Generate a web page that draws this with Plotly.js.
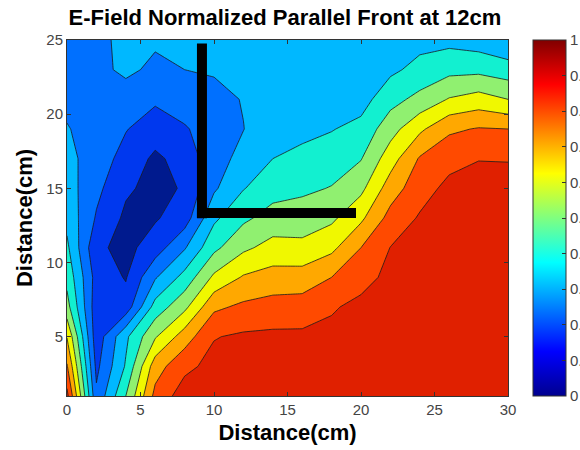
<!DOCTYPE html>
<html>
<head>
<meta charset="utf-8">
<script src="https://cdn.plot.ly/plotly-3.0.1.min.js"></script>
<style>html,body{margin:0;padding:0;background:#fff;overflow:hidden}#chart{width:580px;height:450px}</style>
</head>
<body>
<div id="chart"></div>
<script>
const xValues = [0,2,4,6,8,10,12,14,16,18,20,22,24,26,28,30];
const yValues = [1,3,5,7,9,11,13,15,17,19,21,23,25];
const row01 = [.93,.22,.50,.83,.95,.94,.945,.945,.945,.945,.95,.95,.95,.95,.95,.95];
const row03 = [.81,.175,.41,.755,.875,.93,.935,.935,.935,.94,.945,.95,.95,.95,.95,.95];
const row05 = [.695,.14,.38,.59,.75,.895,.915,.92,.92,.925,.94,.945,.95,.95,.95,.95];
const row07 = [.537,.14,.14,.44,.575,.78,.82,.84,.845,.89,.925,.935,.945,.95,.95,.95];
const row09 = [.47,.16,.093,.29,.435,.62,.71,.74,.745,.80,.865,.925,.935,.945,.95,.95];
const row11 = [.42,.12,.07,.15,.29,.475,.58,.635,.625,.675,.80,.902,.92,.94,.945,.945];
const row13 = [.37,.19,.08,.09,.15,.38,.48,.54,.55,.58,.68,.835,.91,.935,.94,.94];
const row15 = [.345,.225,.115,.07,.11,.285,.395,.46,.48,.505,.575,.75,.86,.925,.935,.93];
const row17 = [.33,.25,.165,.08,.14,.26,.33,.40,.43,.45,.495,.655,.81,.87,.897,.896];
const row19 = [.305,.265,.205,.15,.19,.25,.298,.36,.37,.395,.43,.56,.68,.7825,.807,.80];
const row21 = [.28,.27,.265,.215,.25,.27,.305,.335,.34,.355,.36,.465,.53,.607,.642,.60];
const row23 = [.27,.28,.315,.285,.30,.31,.32,.33,.33,.335,.33,.38,.43,.471,.474,.446];
const row25 = [.27,.29,.31,.31,.32,.32,.33,.33,.33,.33,.33,.345,.37,.372,.351,.31];
const zValues = [row01,row03,row05,row07,row09,row11,row13,row15,row17,row19,row21,row23,row25];

const barVerticalX = [9.18,9.18];
const barVerticalY = [24.76,12.99];
const barHorizontalX = [8.84,19.66];
const barHorizontalY = [13.33,13.33];

const jet = [[0,'#00008f'],[.125,'#0000ff'],[.375,'#00ffff'],[.625,'#ffff00'],[.875,'#ff0000'],[1,'#800000']];
const bandColors = ['#001a8e','#0038ee','#0070ff','#00b8ff','#12f0d0','#90f070','#f0f800','#ffa800','#ff4a00','#e02000'];
const bands = bandColors.map((c,i)=>[i/9,c]);
const tickGray = '#444444';
const tickFont = {family:'Liberation Sans, Arial, sans-serif', size:15, color:tickGray};
const titleFont = {family:'Liberation Sans, Arial, sans-serif', size:22, color:'#000'};
const axisTitleFont = {family:'Liberation Sans, Arial, sans-serif', size:22, color:'#000'};

const data = [
  {type:'heatmap', x:xValues, y:yValues, z:zValues, zmin:0, zmax:1, colorscale:jet, hoverinfo:'skip',
   showscale:true,
   colorbar:{x:533/580, xref:'container', xanchor:'left', y:0, yref:'paper', yanchor:'bottom',
     len:1, lenmode:'fraction', thickness:33, thicknessmode:'pixels', xpad:0, ypad:0,
     tick0:0, dtick:.1, ticks:'inside', ticklen:4, tickwidth:1, tickcolor:'#333', tickfont:tickFont,
     outlinecolor:'#333', outlinewidth:1, borderwidth:0}},
  {type:'contour', x:xValues, y:yValues, z:zValues, zmin:0, zmax:1, colorscale:bands, showscale:false,
   autocontour:false, contours:{start:.1, end:.9, size:.1, coloring:'fill'},
   line:{color:'#1a1a1a', width:.8, smoothing:0}, hoverinfo:'skip'},
  {type:'scatter', mode:'lines', x:barVerticalX, y:barVerticalY, line:{color:'#000', width:10}, showlegend:false, hoverinfo:'skip'},
  {type:'scatter', mode:'lines', x:barHorizontalX, y:barHorizontalY, line:{color:'#000', width:10}, showlegend:false, hoverinfo:'skip'}
];
const axisBase = {showgrid:false, zeroline:false, showline:true, linecolor:'#333', linewidth:1, mirror:'ticks',
  ticks:'inside', ticklen:4, tickwidth:1, tickcolor:'#333', tickfont:tickFont};
const layout = {
  width:580, height:450, showlegend:false, paper_bgcolor:'#fff', plot_bgcolor:'#fff',
  margin:{l:67, r:72, t:40, b:54},
  title:{text:'<b>E-Field Normalized Parallel Front at 12cm</b>', font:titleFont, x:285/580, xanchor:'center', xref:'container', y:1-10/450, yanchor:'top'},
  xaxis:Object.assign({}, axisBase, {range:[0,30], tick0:0, dtick:5, title:{text:'<b>Distance(cm)</b>', font:axisTitleFont, standoff:7}}),
  yaxis:Object.assign({}, axisBase, {range:[1,25], tickvals:[5,10,15,20,25], title:{text:'<b>Distance(cm)</b>', font:axisTitleFont, standoff:7}})
};
Plotly.newPlot('chart', data, layout, {displayModeBar:false, staticPlot:true});
</script>
</body>
</html>
